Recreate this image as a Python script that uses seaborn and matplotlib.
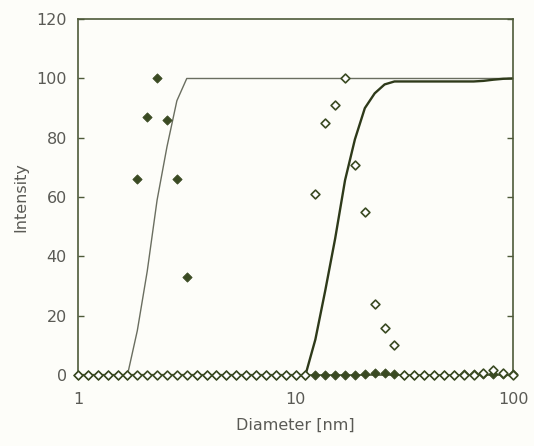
import matplotlib
matplotlib.use("Agg")
import matplotlib.pyplot as plt
import seaborn as sns
import pandas as pd

# Diameter bins [nm] (log spaced instrument bins)
diameter = [1.000, 1.110, 1.233, 1.369, 1.520, 1.688, 1.874, 2.081, 2.310, 2.565,
            2.848, 3.162, 3.511, 3.899, 4.329, 4.806, 5.337, 5.926, 6.579, 7.305,
            8.111, 9.006, 10.00, 11.10, 12.33, 13.69, 15.20, 16.88, 18.74, 20.81,
            23.10, 25.65, 28.48, 31.62, 35.11, 38.99, 43.29, 48.06, 53.37, 59.26,
            65.79, 73.05, 81.11, 90.06, 100.0]

# Intensity distribution, sample 1 (filled diamonds)
intensity_1 = [0, 0, 0, 0, 0, 0, 66, 87, 100, 86,
               66, 33, 0, 0, 0, 0, 0, 0, 0, 0,
               0, 0, 0, 0, 0, 0, 0, 0, 0, 0.4,
               0.8, 0.8, 0.3, 0, 0, 0, 0, 0, 0, 0.3,
               0.3, 0.4, 0.4, 0.3, 0.3]

# Intensity distribution, sample 2 (open diamonds)
intensity_2 = [0, 0, 0, 0, 0, 0, 0, 0, 0, 0,
               0, 0, 0, 0, 0, 0, 0, 0, 0, 0,
               0, 0, 0, 0, 61, 85, 91, 100, 71, 55,
               24, 16, 10, 0, 0, 0, 0, 0, 0, 0,
               0, 0.6, 1.7, 0.6, 0]

# Cumulative curves
cumulative_1 = [0, 0, 0, 0, 0, 0, 15, 35, 59, 77,
                92.5, 100, 100, 100, 100, 100, 100, 100, 100, 100,
                100, 100, 100, 100, 100, 100, 100, 100, 100, 100,
                100, 100, 100, 100, 100, 100, 100, 100, 100, 100,
                100, 100, 100, 100, 100]

cumulative_2 = [0, 0, 0, 0, 0, 0, 0, 0, 0, 0,
                0, 0, 0, 0, 0, 0, 0, 0, 0, 0,
                0, 0, 0, 0, 12, 28.5, 46, 65.7, 79.5, 90,
                95, 98, 99, 99, 99, 99, 99, 99, 99, 99,
                99, 99.2, 99.6, 99.9, 100]

yticks = [0, 20, 40, 60, 80, 100, 120]
xticks = [1, 10, 100]
xticklabels = ["1", "10", "100"]

df = pd.DataFrame({"Diameter": diameter, "I1": intensity_1, "I2": intensity_2,
                   "C1": cumulative_1, "C2": cumulative_2})

sns.set_theme(style="white")
plt.rcParams["font.family"] = ["DejaVu Sans"]

fig = plt.figure(figsize=(5.34, 4.46), dpi=100, facecolor="#fdfdf9")
ax = fig.add_axes([0.146, 0.159, 0.815, 0.798])
ax.set_facecolor("#fdfdf9")

dark = "#3a4a22"
spine_c = "#4e5a3a"

sns.lineplot(data=df, x="Diameter", y="C1", ax=ax, color="#6a6e60", lw=1.0,
             zorder=2, estimator=None, sort=False)
sns.lineplot(data=df, x="Diameter", y="C2", ax=ax, color="#2e3a1a", lw=1.7,
             zorder=2, estimator=None, sort=False)

sns.scatterplot(data=df, x="Diameter", y="I1", ax=ax, marker="D", s=22,
                color=dark, edgecolor=dark, linewidth=0.6, zorder=4, clip_on=False)
sns.scatterplot(data=df, x="Diameter", y="I2", ax=ax, marker="D", s=20,
                facecolor="white", edgecolor=dark, linewidth=1.2, zorder=5,
                clip_on=False)

ax.set_xscale("log")
ax.set_xlim(1, 100)
ax.set_ylim(0, 120)
ax.set_xticks(xticks)
ax.set_xticklabels(xticklabels)
ax.minorticks_off()
ax.set_yticks(yticks)

for s in ax.spines.values():
    s.set_visible(True)
    s.set_color(spine_c)
    s.set_linewidth(1.2)

txt = "#5a5a55"
ax.tick_params(axis="y", which="major", direction="in", length=4, width=1,
               color=spine_c, left=True, right=True, labelsize=11.5,
               labelcolor=txt, pad=8)
ax.tick_params(axis="x", which="both", length=0, labelsize=11.5,
               labelcolor=txt, pad=12)

ax.set_xlabel("Diameter [nm]", fontsize=11.5, color=txt, labelpad=8)
ax.set_ylabel("Intensity", fontsize=11.5, color=txt, labelpad=6)

fig.savefig("out.png", dpi=100, facecolor=fig.get_facecolor())
